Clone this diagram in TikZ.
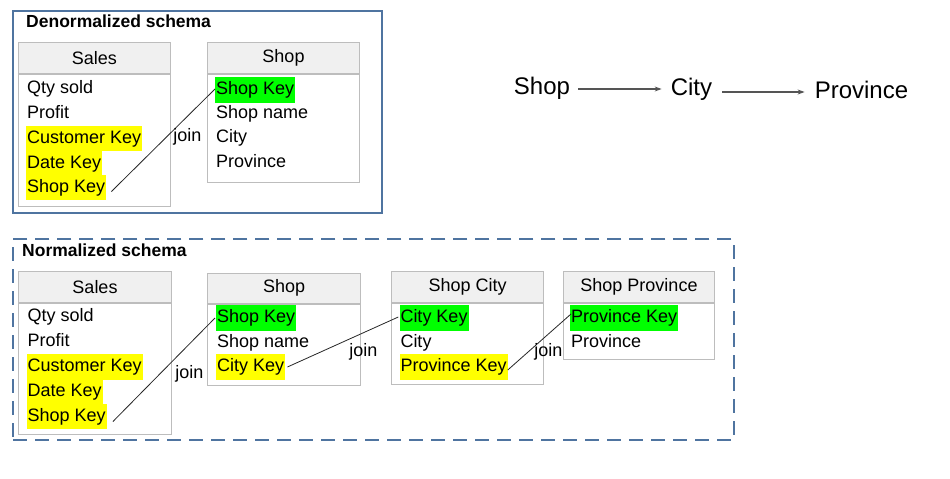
\documentclass[tikz,border=0pt]{standalone}
\usepackage{fontspec}
\setmainfont{Liberation Sans}
\usetikzlibrary{calc,arrows.meta}
\definecolor{frameblue}{HTML}{4F74A0}
\definecolor{tblgray}{HTML}{BDBDBD}
\definecolor{headfill}{HTML}{F0F0F0}
\definecolor{hlyellow}{HTML}{FFFF00}
\definecolor{hlgreen}{HTML}{00FF00}
\definecolor{arrowgray}{HTML}{555555}
\begin{document}
\begin{tikzpicture}[x=1pt,y=-1pt,
  every node/.style={font=\fontsize{18}{20}\selectfont},
  frame/.style={draw=frameblue,line width=2pt},
  tblbox/.style={draw=tblgray,line width=1pt,fill=white,anchor=north west,inner sep=0pt},
  tblhead/.style={draw=tblgray,line width=1pt,fill=headfill,anchor=north west,inner sep=0pt},
  sepline/.style={draw=tblgray,line width=2pt},
  row/.style={anchor=west,inner xsep=1pt,inner ysep=4pt,text height=13.5pt,text depth=4pt},
  ykey/.style={row,fill=hlyellow},
  gkey/.style={row,fill=hlgreen},
  joinline/.style={draw=black!85,line width=0.8pt},
  joinlabel/.style={inner sep=0pt},
  title/.style={font=\fontsize{17.5}{20}\selectfont\bfseries,anchor=west,inner sep=0pt},
  big/.style={font=\fontsize{24}{28}\selectfont,inner sep=0pt},
  flow/.style={draw=arrowgray,line width=1.2pt,-{Stealth[length=7pt,width=5pt]}}
]
\useasboundingbox (0,0) rectangle (950,479);

% ---------- Denormalized ----------
\node[frame,anchor=north west,minimum width=368.7,minimum height=202,inner sep=0pt] (dframe) at (12.3,10) {};
\node[title] (dtitle) at (26,21) {Denormalized schema};

\node[tblbox,minimum width=152.3,minimum height=164.3] (ds) at (17.7,41.7) {};
\node[tblhead,minimum width=152.3,minimum height=31.3] (dsh) at (17.7,41.7) {Sales};
\draw[sepline] (dsh.south west) -- (dsh.south east);
\node[row] (dsq) at (26,89) {Qty sold};
\node[row] (dsp) at (26,113.5) {Profit};
\node[ykey] (dsc) at (26,138.7) {Customer Key};
\node[ykey] (dsd) at (26,163.3) {Date Key};
\node[ykey] (dss) at (26,187.5) {Shop Key};

\node[tblbox,minimum width=152,minimum height=140.3] (dp) at (207,41.7) {};
\node[tblhead,minimum width=152,minimum height=31.3] (dph) at (207,41.7) {Shop};
\draw[sepline] (dph.south west) -- (dph.south east);
\node[gkey] (dpk) at (215,90) {Shop Key};
\node[row] (dpn) at (215,114) {Shop name};
\node[row] (dpc) at (215,138) {City};
\node[row] (dpv) at (215,162.5) {Province};

\draw[joinline] ($(dss.east)+(5,4)$) -- ($(dpk.west)+(0,-1)$);
\node[joinlabel] (dj) at (187.5,136.5) {join};

% ---------- Hierarchy ----------
\node[big] (hshop) at (542,88) {Shop};
\node[big] (hcity) at (691.5,89) {City};
\node[big] (hprov) at (861.5,90) {Province};
\draw[flow] ($(hshop.east)+(8,1)$) -- ($(hcity.west)+(-9,0)$);
\draw[flow] ($(hcity.east)+(10,3)$) -- ($(hprov.west)+(-10,2)$);

% ---------- Normalized ----------
\node[frame,dashed,dash pattern=on 14pt off 8pt,anchor=north west,minimum width=720.7,minimum height=200.7,inner sep=0pt] (nframe) at (12.3,238.3) {};
\node[title] (ntitle) at (22,250) {Normalized schema};

\node[tblbox,minimum width=152.4,minimum height=163.3] (ns) at (18.3,270.7) {};
\node[tblhead,minimum width=152.4,minimum height=31] (nsh) at (18.3,270.7) {Sales};
\draw[sepline] (nsh.south west) -- (nsh.south east);
\node[row] (nsq) at (26.5,317) {Qty sold};
\node[row] (nsp) at (26.5,341.5) {Profit};
\node[ykey] (nsc) at (26.5,367) {Customer Key};
\node[ykey] (nsd) at (26.5,391.5) {Date Key};
\node[ykey] (nss) at (26.5,416.5) {Shop Key};

\node[tblbox,minimum width=152.7,minimum height=112.3] (np) at (207.3,272.7) {};
\node[tblhead,minimum width=152.7,minimum height=30] (nph) at (207.3,272.7) {Shop};
\draw[sepline] (nph.south west) -- (nph.south east);
\node[gkey] (npk) at (216,318) {Shop Key};
\node[row] (npn) at (216,343) {Shop name};
\node[ykey] (npc) at (216,367) {City Key};

\node[tblbox,minimum width=152.3,minimum height=113.6] (nc) at (391,270.7) {};
\node[tblhead,minimum width=152.3,minimum height=31] (nch) at (391,270.7) {Shop City};
\draw[sepline] (nch.south west) -- (nch.south east);
\node[gkey] (nck) at (399.3,318) {City Key};
\node[row] (ncc) at (399.3,342.7) {City};
\node[ykey] (ncp) at (399.3,367) {Province Key};

\node[tblbox,minimum width=151.6,minimum height=88.6] (nv) at (562.7,270.7) {};
\node[tblhead,minimum width=151.6,minimum height=31] (nvh) at (562.7,270.7) {Shop Province};
\draw[sepline] (nvh.south west) -- (nvh.south east);
\node[gkey] (nvk) at (570,318) {Province Key};
\node[row] (nvp) at (570,342.7) {Province};

\draw[joinline] ($(nss.east)+(6,5)$) -- ($(npk.west)+(-1,0)$);
\node[joinlabel] (nj1) at (189.5,374) {join};
\draw[joinline] ($(npc.east)+(2,0)$) -- ($(nck.west)+(-1,-1)$);
\node[joinlabel] (nj2) at (363.5,352) {join};
\draw[joinline] ($(ncp.east)+(0,3)$) -- ($(nvk.west)+(1,-4)$);
\node[joinlabel] (nj3) at (548.3,352) {join};
\end{tikzpicture}
\end{document}
